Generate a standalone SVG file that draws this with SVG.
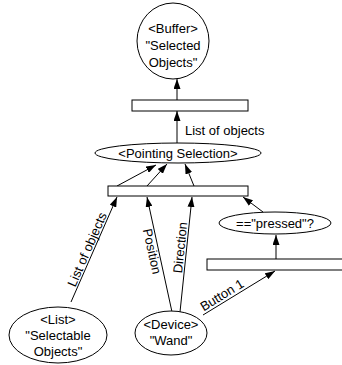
<svg xmlns="http://www.w3.org/2000/svg" width="342" height="365" viewBox="0 0 342 365">
<style>
.n{fill:#fff;stroke:#000;stroke-width:1}
.t{font-family:"Liberation Sans",Arial,sans-serif;font-size:13px;fill:#000}
.c{text-anchor:middle}
.e{fill:none;stroke:#000;stroke-width:1}
</style>
<defs>
<marker id="ah" markerWidth="10" markerHeight="7" refX="10" refY="3.5" orient="auto" markerUnits="userSpaceOnUse">
<path d="M0,0 L10,3.5 L0,7 z" fill="#000"/>
</marker>
</defs>
<rect width="342" height="365" fill="#fff"/>
<g id="connectors">
<line class="e" x1="177" y1="100" x2="177" y2="79" marker-end="url(#ah)"/>
<line class="e" x1="177" y1="143" x2="177" y2="111" marker-end="url(#ah)"/>
<line class="e" x1="117" y1="186" x2="156" y2="165" marker-end="url(#ah)"/>
<line class="e" x1="147" y1="186" x2="167" y2="164" marker-end="url(#ah)"/>
<line class="e" x1="194" y1="186" x2="185" y2="164" marker-end="url(#ah)"/>
<line class="e" x1="71" y1="302" x2="117" y2="197" marker-end="url(#ah)"/>
<line class="e" x1="172" y1="312" x2="147" y2="197" marker-end="url(#ah)"/>
<line class="e" x1="180" y1="312" x2="192" y2="197" marker-end="url(#ah)"/>
<line class="e" x1="263" y1="212" x2="243" y2="197" marker-end="url(#ah)"/>
<line class="e" x1="276" y1="259" x2="276" y2="235" marker-end="url(#ah)"/>
<line class="e" x1="203" y1="315" x2="275" y2="271" marker-end="url(#ah)"/>
<text class="t" x="185" y="135">List of objects</text>
<text class="t c" transform="translate(91.2,251.2) rotate(-66.4)">List of objects</text>
<text class="t c" transform="translate(147.8,252.3) rotate(77.7)">Position</text>
<text class="t c" transform="translate(184.7,248) rotate(-84.1)">Direction</text>
<text class="t c" transform="translate(224.3,298.8) rotate(-31.4)">Button 1</text>
</g>
<g id="buffer">
<ellipse class="n" cx="173" cy="41" rx="36" ry="38"/>
<text class="t c" x="173" y="33">&lt;Buffer&gt;</text>
<text class="t c" x="173" y="50">"Selected</text>
<text class="t c" x="173" y="67">Objects"</text>
</g>
<g id="bar1">
<rect class="n" x="132" y="100" width="116" height="11"/>
</g>
<g id="pointing">
<ellipse class="n" cx="178" cy="153" rx="83" ry="10"/>
<text class="t c" x="178" y="158">&lt;Pointing Selection&gt;</text>
</g>
<g id="bar2">
<rect class="n" x="108" y="186" width="140" height="10"/>
</g>
<g id="pressed">
<ellipse class="n" cx="275" cy="223" rx="56" ry="11"/>
<text class="t c" x="275" y="228">=="pressed"?</text>
</g>
<g id="bar3">
<rect class="n" x="207" y="259" width="140" height="11"/>
</g>
<g id="list">
<ellipse class="n" cx="58" cy="335" rx="49" ry="28"/>
<text class="t c" x="58" y="324">&lt;List&gt;</text>
<text class="t c" x="58" y="340">"Selectable</text>
<text class="t c" x="58" y="356">Objects"</text>
</g>
<g id="device">
<ellipse class="n" cx="171" cy="333" rx="36" ry="22"/>
<text class="t c" x="171" y="329">&lt;Device&gt;</text>
<text class="t c" x="171" y="345">"Wand"</text>
</g>
</svg>
